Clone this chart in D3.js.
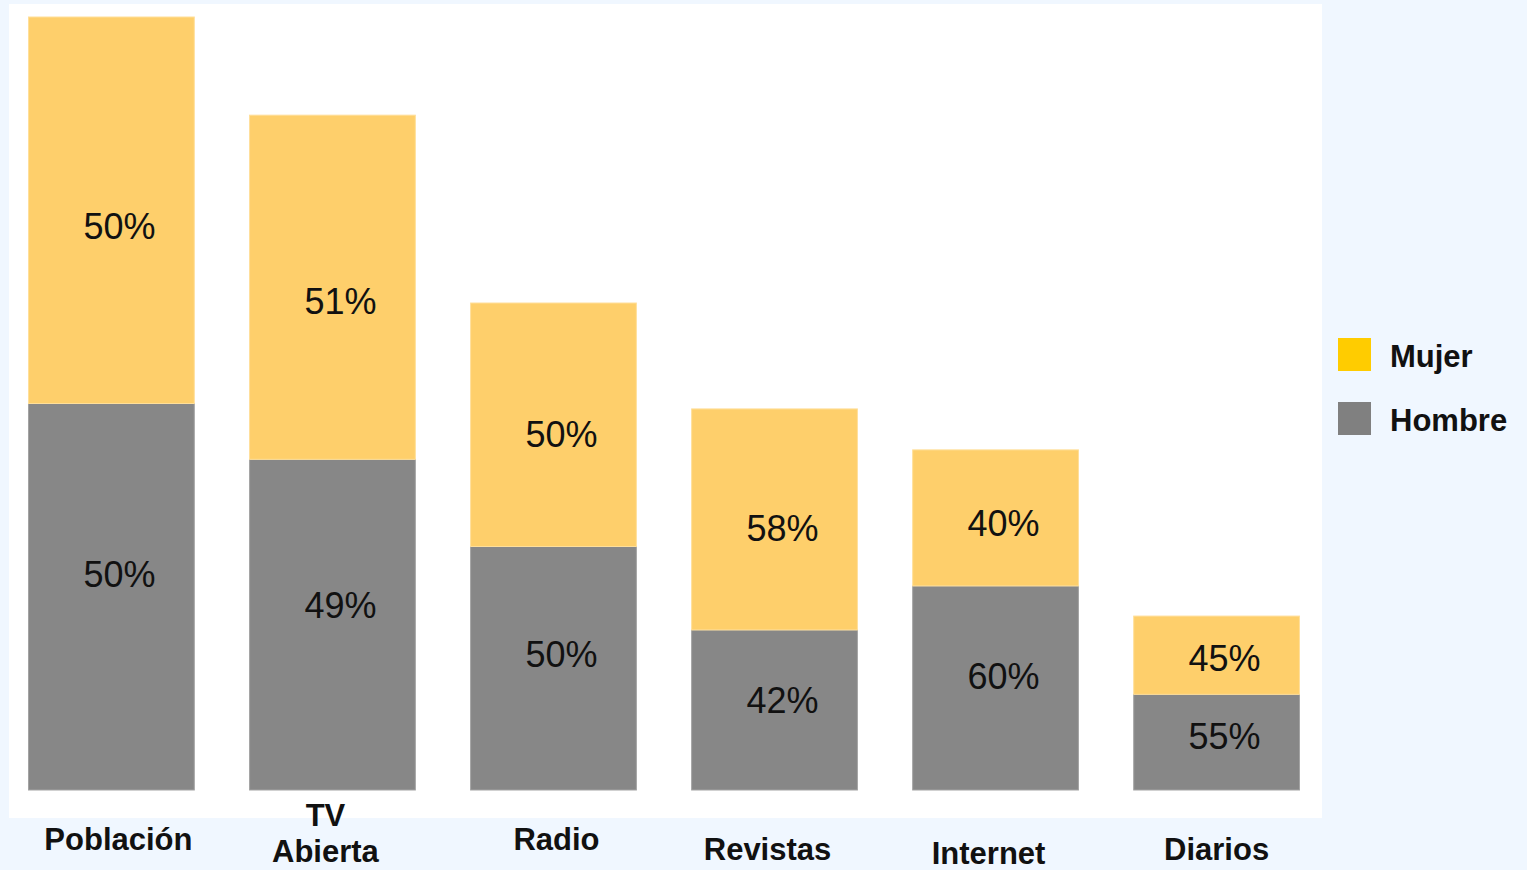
<!DOCTYPE html>
<html lang="es">
<head>
<meta charset="utf-8">
<script src="https://cdn.jsdelivr.net/npm/d3@7"></script>
<style>
  html, body { margin: 0; padding: 0; background: #f0f7ff; }
  svg { display: block; }
  text { font-family: "Liberation Sans", Arial, Helvetica, sans-serif; }
</style>
</head>
<body>
<svg id="chart" width="1527" height="870"></svg>
<script>
// Medios: audiencia relativa (Población = 100) y composición por sexo
const categories = ["Población", "TV Abierta", "Radio", "Revistas", "Internet", "Diarios"];
const totals     = [100, 87.3, 63.0, 49.3, 44.0, 22.5];
const hombrePct  = [50, 49, 50, 42, 60, 55];
const mujerPct   = [50, 51, 50, 58, 40, 45];
const seriesNames = ["Mujer", "Hombre"];

const colors = { Mujer: "#fecf6b", Hombre: "#878787" };
const legendColors = { Mujer: "#ffcc00", Hombre: "#808080" };
const strokes = { Mujer: "#ffdf9a", Hombre: "#a3a3a3" };

const svg = d3.select("#chart");

// white plotting panel
svg.append("rect")
  .attr("x", 9).attr("y", 4)
  .attr("width", 1313).attr("height", 814)
  .attr("fill", "#ffffff");

const x = d3.scaleBand()
  .domain(categories)
  .range([2, 1326])
  .paddingInner(0.25)
  .paddingOuter(0.12);

const y = d3.scaleLinear()
  .domain([0, 100])
  .range([790, 17]);

// segments: Hombre at the base, Mujer stacked above
const rows = categories.map((c, i) => {
  const h = totals[i] * hombrePct[i] / 100;
  const m = totals[i] * mujerPct[i] / 100;
  return [
    { cat: c, serie: "Hombre", y0: 0, y1: h, pct: hombrePct[i] },
    { cat: c, serie: "Mujer", y0: h, y1: h + m, pct: mujerPct[i] }
  ];
}).flat();

svg.append("g")
  .selectAll("rect")
  .data(rows)
  .join("rect")
  .attr("x", d => x(d.cat))
  .attr("width", x.bandwidth())
  .attr("y", d => y(d.y1))
  .attr("height", d => y(d.y0) - y(d.y1))
  .attr("fill", d => colors[d.serie])
  .attr("stroke", d => strokes[d.serie])
  .attr("stroke-width", 1);

// percentage labels inside each segment (upper segment text sits a bit low, lower one a bit high)
const labelPos = { Mujer: 0.54, Hombre: 0.44 };
svg.append("g")
  .selectAll("text")
  .data(rows)
  .join("text")
  .attr("x", d => x(d.cat) + x.bandwidth() / 2 + 8)
  .attr("y", d => y(d.y1) + (y(d.y0) - y(d.y1)) * labelPos[d.serie])
  .attr("dy", "0.36em")
  .attr("text-anchor", "middle")
  .attr("font-size", 36)
  .attr("fill", "#111")
  .text(d => d.pct + "%");

// category axis below the panel
const labelNudge = {
  "Población": [7, 0], "TV Abierta": [-7, -24], "Radio": [3, 0],
  "Revistas": [-7, 10], "Internet": [-7, 14], "Diarios": [0, 10]
};
const axis = svg.append("g")
  .attr("transform", "translate(0,790)")
  .call(d3.axisBottom(x).tickSize(0).tickPadding(0));
axis.select(".domain").remove();
axis.selectAll(".tick text")
  .attr("font-family", "'Liberation Sans', Arial, sans-serif")
  .attr("font-size", 31)
  .attr("font-weight", "bold")
  .attr("fill", "#111")
  .attr("x", d => labelNudge[d][0])
  .attr("y", d => 60 + labelNudge[d][1])
  .attr("dy", 0)
  .each(function(d) {
    const t = d3.select(this);
    const words = d.split(" ");
    if (words.length > 1) {
      t.text(null);
      words.forEach((w, k) => {
        t.append("tspan").attr("x", labelNudge[d][0]).attr("dy", k === 0 ? 0 : 36).text(w);
      });
    }
  });

// legend
const legend = svg.append("g").attr("transform", "translate(1338,338)");
seriesNames.forEach((s, i) => {
  const g = legend.append("g").attr("transform", `translate(0,${i * 64})`);
  g.append("rect").attr("width", 33).attr("height", 33).attr("fill", legendColors[s]);
  g.append("text")
    .attr("x", 52).attr("y", 18).attr("dy", "0.36em")
    .attr("font-size", 31).attr("font-weight", "bold").attr("fill", "#111")
    .text(s);
});
</script>
</body>
</html>
